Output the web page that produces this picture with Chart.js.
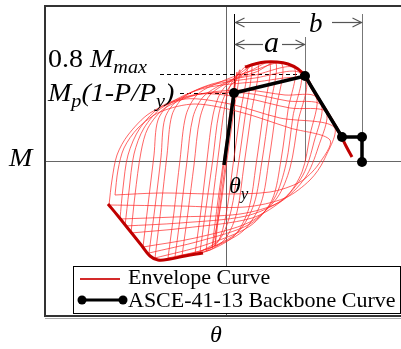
<!DOCTYPE html>
<html>
<head>
<meta charset="utf-8">
<script src="https://cdn.jsdelivr.net/npm/chart.js@4"></script>
<style>
  html, body { margin: 0; padding: 0; background: #fff; overflow: hidden; }
  #caja { position: relative; width: 410px; height: 349px; }
</style>
</head>
<body>
<div id="caja"><canvas id="grafica"></canvas></div>
<script>
// Curva envolvente (theta, M) - rama positiva y negativa
const envolventePos = [
  [1.9, 9.4], [2.9, 9.7], [3.9, 9.9], [5.1, 9.9], [6.2, 9.7], [7.2, 9.2], [8.0, 8.4],
  [8.6, 7.3], [9.4, 6.0], [10.4, 4.4], [11.4, 2.7], [12.0, 1.5], [12.6, 0.4]
];
const envolventeNeg = [
  [-11.8, -4.3], [-10.8, -5.5], [-9.6, -7.0], [-8.4, -8.5], [-7.6, -9.5],
  [-6.8, -9.9], [-5.6, -9.8], [-4.1, -9.5], [-2.3, -9.2]
];

// Curva backbone ASCE 41-13: origen, fluencia, pico, caida, residual, colapso
const backbone = [[-0.2, -0.4], [0.8, 6.8], [7.9, 8.5], [11.6, 2.4], [13.6, 2.4], [13.6, -0.1]];

// Ciclos histereticos (theta, M)
const cicloA = [[-1.4, -8.7], [-0.8, -3.9], [-0.1, 1.1], [0.5, 5.6], [0.9, 7.9], [1.4, 9.1], [0.8, 5.1], [0.1, 0.1], [-0.6, -4.9], [-1.4, -8.7]];
const cicloA2 = [[-1.1, -8.5], [-0.5, -3.7], [0.1, 1.0], [0.6, 5.5], [1.1, 8.9], [0.5, 4.8], [-0.2, -0.2], [-0.8, -5.1], [-1.1, -8.5]];
const cicloB = [[-2.0, -9.0], [-1.4, -4.4], [-0.7, 1.1], [-0.1, 5.6], [0.6, 7.9], [2.1, 9.4], [1.4, 4.6], [0.7, -0.4], [0.0, -5.4], [-0.8, -8.1], [-2.0, -9.0]];
const cicloC = [[-3.1, -9.3], [-2.5, -4.9], [-1.9, 0.1], [-1.3, 4.6], [-0.5, 6.9], [1.2, 8.6], [3.2, 9.7], [2.5, 4.6], [1.8, -0.4], [1.1, -5.1], [0.0, -7.7], [-1.6, -8.9], [-3.1, -9.3]];
const cicloC2 = [[-2.6, -9.1], [-2.0, -4.7], [-1.3, 0.3], [-0.7, 4.8], [0.2, 7.2], [1.8, 8.8], [2.6, 9.5], [1.9, 4.4], [1.2, -0.6], [0.5, -5.0], [-0.6, -7.8], [-2.6, -9.1]];
const cicloD = [[-4.4, -9.5], [-3.8, -5.1], [-3.2, -0.4], [-2.6, 4.3], [-1.6, 6.6], [0.6, 8.1], [2.6, 9.1], [4.4, 9.8], [3.7, 4.6], [3.0, -0.4], [2.3, -4.7], [0.9, -7.4], [-1.6, -8.9], [-4.4, -9.5]];
const cicloE = [[-5.8, -9.7], [-5.2, -5.1], [-4.6, 0.1], [-4.0, 4.6], [-2.8, 6.7], [-0.1, 8.1], [2.9, 9.1], [5.6, 9.7], [5.0, 5.1], [4.3, 0.1], [3.5, -4.2], [1.7, -7.0], [-1.6, -8.7], [-5.8, -9.7]];
const cicloE2 = [[-5.1, -9.6], [-4.5, -5.0], [-3.9, 0.0], [-3.3, 4.4], [-2.2, 6.5], [0.3, 8.0], [3.0, 8.9], [5.0, 9.8], [4.3, 4.9], [3.6, 0.0], [2.8, -4.3], [1.2, -7.1], [-1.9, -8.8], [-5.1, -9.6]];
const cicloF = [[-7.1, -9.7], [-6.5, -4.7], [-5.9, 0.6], [-5.4, 4.6], [-4.2, 6.4], [-1.4, 7.7], [2.9, 8.6], [6.8, 9.3], [6.2, 5.1], [5.5, 0.1], [4.6, -3.9], [2.4, -6.5], [-2.1, -8.4], [-7.1, -9.7]];
const cicloG = [[-8.3, -8.6], [-7.8, -4.4], [-7.2, 0.6], [-6.8, 4.1], [-5.4, 5.9], [-2.1, 7.3], [2.9, 7.9], [7.9, 8.1], [7.2, 3.9], [6.4, -0.7], [5.1, -3.7], [2.4, -6.1], [-3.1, -7.7], [-8.3, -8.6]];
const cicloG2 = [[-7.7, -9.2], [-7.1, -4.6], [-6.5, 0.4], [-6.1, 4.3], [-4.8, 6.1], [-1.8, 7.5], [2.9, 8.3], [7.4, 8.8], [6.7, 4.5], [6.0, -0.3], [4.8, -3.8], [2.4, -6.3], [-2.6, -8.0], [-7.7, -9.2]];
const cicloH = [[-9.5, -7.2], [-9.1, -3.4], [-8.5, 0.9], [-7.8, 3.3], [-6.1, 5.3], [-2.6, 6.7], [1.9, 7.1], [5.9, 6.6], [9.0, 6.4], [8.4, 2.6], [7.6, -1.1], [5.9, -3.7], [2.6, -5.7], [-4.1, -6.7], [-9.5, -7.2]];
const cicloI = [[-10.6, -5.8], [-10.3, -2.7], [-9.8, 0.6], [-8.6, 3.3], [-6.4, 5.5], [-2.6, 6.7], [1.9, 6.3], [6.4, 5.3], [10.0, 4.9], [9.2, 1.3], [7.9, -1.7], [5.4, -4.1], [1.4, -5.3], [-5.1, -5.6], [-10.6, -5.8]];
const cicloI2 = [[-10.1, -6.5], [-9.7, -3.0], [-9.2, 0.7], [-8.2, 3.3], [-6.3, 5.4], [-2.6, 6.7], [1.9, 6.8], [6.2, 6.0], [9.5, 5.6], [8.8, 1.9], [7.7, -1.4], [5.6, -3.9], [2.0, -5.5], [-4.6, -6.2], [-10.1, -6.5]];
const cicloJ = [[-11.7, -4.4], [-11.4, -1.9], [-10.9, 0.6], [-9.8, 2.6], [-7.6, 4.8], [-4.1, 6.2], [0.4, 5.7], [5.4, 4.3], [10.8, 3.4], [9.8, 0.1], [8.4, -1.9], [5.9, -3.7], [1.9, -4.6], [-4.6, -4.5], [-11.7, -4.4]];
const cicloK = [[-11.1, -3.4], [-10.8, -0.9], [-10.2, 1.3], [-8.8, 3.3], [-6.6, 4.9], [-3.1, 5.7], [1.4, 4.9], [6.4, 3.3], [10.4, 2.1], [9.2, -0.4], [7.4, -2.1], [4.4, -3.1], [-0.6, -3.3], [-6.6, -3.2], [-11.1, -3.4]];

const ciclos = [cicloA, cicloA2, cicloB, cicloC, cicloC2, cicloD, cicloE, cicloE2, cicloF,
  cicloG, cicloG2, cicloH, cicloI, cicloI2, cicloJ, cicloK];

const etiquetasLeyenda = ['Envelope Curve', 'ASCE-41-13 Backbone Curve'];

const SERIF = '"Liberation Serif", "Times New Roman", serif';

function aPuntos(pares) {
  return pares.map(([x, y]) => ({ x, y }));
}

// texto con partes en cursiva y subindices (algo ensanchado)
function texto(ctx, x, y, partes, ancho = 1.12) {
  for (const p of partes) {
    ctx.font = `${p.it ? 'italic ' : ''}${p.s}px ${SERIF}`;
    ctx.save();
    ctx.translate(x, y + (p.dy || 0));
    ctx.scale(ancho, 1);
    ctx.fillText(p.t, 0, 0);
    ctx.restore();
    x += ctx.measureText(p.t).width * ancho;
  }
}

function linea(ctx, x1, y1, x2, y2) {
  ctx.beginPath();
  ctx.moveTo(x1, y1);
  ctx.lineTo(x2, y2);
  ctx.stroke();
}

function punta(ctx, x, y, dir) {
  ctx.beginPath();
  ctx.moveTo(x - dir * 9, y - 4.5);
  ctx.lineTo(x, y);
  ctx.lineTo(x - dir * 9, y + 4.5);
  ctx.stroke();
}

// flecha de cota con hueco para la letra
function cota(ctx, x1, x2, y, g1, g2) {
  linea(ctx, x1, y, g1, y);
  linea(ctx, g2, y, x2, y);
  punta(ctx, x1, y, -1);
  punta(ctx, x2, y, 1);
}

const anotaciones = {
  id: 'anotaciones',
  beforeDatasetsDraw(chart) {
    const { ctx, chartArea: a, scales: { x, y } } = chart;
    const px = v => x.getPixelForValue(v);
    const py = v => y.getPixelForValue(v);
    const x0 = Math.round(px(0)) + 0.5;
    const y0 = Math.round(py(0)) + 0.5;
    ctx.save();

    // ejes por el origen
    ctx.strokeStyle = '#666';
    ctx.lineWidth = 1;
    linea(ctx, a.left, y0, a.right, y0);
    linea(ctx, x0, a.top, x0, a.bottom);

    const [, fl, pico, , resid] = backbone;
    const xf = Math.round(px(fl[0])) + 0.5;
    const xp = Math.round(px(pico[0])) + 0.5;
    const xr = Math.round(px(resid[0])) + 0.5;

    // lineas verticales de referencia
    ctx.strokeStyle = '#000';
    linea(ctx, xf, 14, xf, y0);
    ctx.strokeStyle = '#777';
    linea(ctx, xp, 37, xp, y0);
    linea(ctx, xr, 14, xr, py(resid[1]));

    // cotas a y b
    ctx.strokeStyle = '#555';
    ctx.lineWidth = 1.2;
    cota(ctx, xf + 1, xr - 1, 22.5, 300, 332);
    cota(ctx, xf + 1, xp - 1, 44.5, 263, 282);

    // lineas discontinuas de 0.8 Mmax y Mp(1-P/Py)
    ctx.strokeStyle = '#000';
    ctx.lineWidth = 1;
    ctx.setLineDash([4, 3]);
    linea(ctx, 160, Math.round(py(pico[1])) - 1.5, xp, Math.round(py(pico[1])) - 1.5);
    linea(ctx, 180, Math.round(py(fl[1])) + 0.5, xf, Math.round(py(fl[1])) + 0.5);
    ctx.restore();
  },
  afterDatasetsDraw(chart) {
    const { ctx, chartArea: a } = chart;
    ctx.save();
    ctx.fillStyle = '#000';
    ctx.textBaseline = 'alphabetic';

    texto(ctx, 48, 67, [{ t: '0.8 ', s: 25 }, { t: 'M', s: 25, it: true }, { t: 'max', s: 18, it: true, dy: 6 }]);
    texto(ctx, 48, 101, [{ t: 'M', s: 25, it: true }, { t: 'p', s: 18, it: true, dy: 6 },
      { t: '(1-P/P', s: 25, it: true }, { t: 'y', s: 18, it: true, dy: 6 }, { t: ')', s: 25, it: true }]);
    texto(ctx, 9, 166, [{ t: 'M', s: 25, it: true }]);
    texto(ctx, 229, 193, [{ t: 'θ', s: 24, it: true }, { t: 'y', s: 17, it: true, dy: 6 }], 1);
    texto(ctx, 210, 342, [{ t: 'θ', s: 24, it: true }], 1);
    texto(ctx, 264, 52, [{ t: 'a', s: 30, it: true }], 1);
    texto(ctx, 309, 32, [{ t: 'b', s: 27, it: true }], 1);

    // marco del grafico
    ctx.strokeStyle = '#aaa';
    ctx.lineWidth = 1;
    linea(ctx, a.left, a.bottom + 2.5, a.right, a.bottom + 2.5);
    ctx.strokeStyle = '#333';
    ctx.lineWidth = 2;
    ctx.strokeRect(a.left, a.top, a.right - a.left, a.bottom - a.top);

    // leyenda
    ctx.fillStyle = '#fff';
    ctx.fillRect(73.5, 266.5, 327, 47);
    ctx.strokeStyle = '#000';
    ctx.lineWidth = 1;
    ctx.strokeRect(73.5, 266.5, 327, 47);
    ctx.strokeStyle = '#d42a2a';
    ctx.lineWidth = 2;
    linea(ctx, 80, 279, 120, 279);
    ctx.strokeStyle = '#000';
    ctx.lineWidth = 3;
    linea(ctx, 82, 300, 123, 300);
    ctx.fillStyle = '#000';
    for (const cx of [82, 123]) {
      ctx.beginPath();
      ctx.arc(cx, 300, 4.5, 0, Math.PI * 2);
      ctx.fill();
    }
    ctx.font = `22px ${SERIF}`;
    ctx.fillText(etiquetasLeyenda[0], 128, 284);
    ctx.fillText(etiquetasLeyenda[1], 128, 307);
    ctx.restore();
  }
};

const datasets = [
  {
    label: etiquetasLeyenda[1],
    data: aPuntos(backbone),
    showLine: true,
    borderColor: '#000',
    borderWidth: 3.5,
    pointRadius: [0, 5, 5, 5, 5, 5],
    pointBackgroundColor: '#000',
    pointBorderWidth: 0,
    tension: 0
  },
  {
    label: etiquetasLeyenda[0],
    data: aPuntos(envolventePos),
    showLine: true,
    borderColor: '#c00000',
    borderWidth: 3,
    pointRadius: 0,
    tension: 0.4
  },
  {
    label: etiquetasLeyenda[0],
    data: aPuntos(envolventeNeg),
    showLine: true,
    borderColor: '#c00000',
    borderWidth: 3,
    pointRadius: 0,
    tension: 0.4
  },
  ...ciclos.map(c => ({
    label: 'ciclo',
    data: aPuntos(c),
    showLine: true,
    borderColor: 'rgba(255, 40, 40, 0.8)',
    borderWidth: 0.9,
    pointRadius: 0,
    tension: 0.3
  }))
];

new Chart(document.getElementById('grafica'), {
  type: 'scatter',
  data: { datasets },
  options: {
    responsive: true,
    maintainAspectRatio: false,
    animation: false,
    events: [],
    layout: { padding: { left: 45, top: 6, right: 5, bottom: 33 } },
    scales: {
      x: { type: 'linear', min: -18.1, max: 17.9, display: false },
      y: { type: 'linear', min: -15.5, max: 15.5, display: false }
    },
    plugins: {
      legend: { display: false },
      tooltip: { enabled: false }
    }
  },
  plugins: [anotaciones]
});
</script>
</body>
</html>
